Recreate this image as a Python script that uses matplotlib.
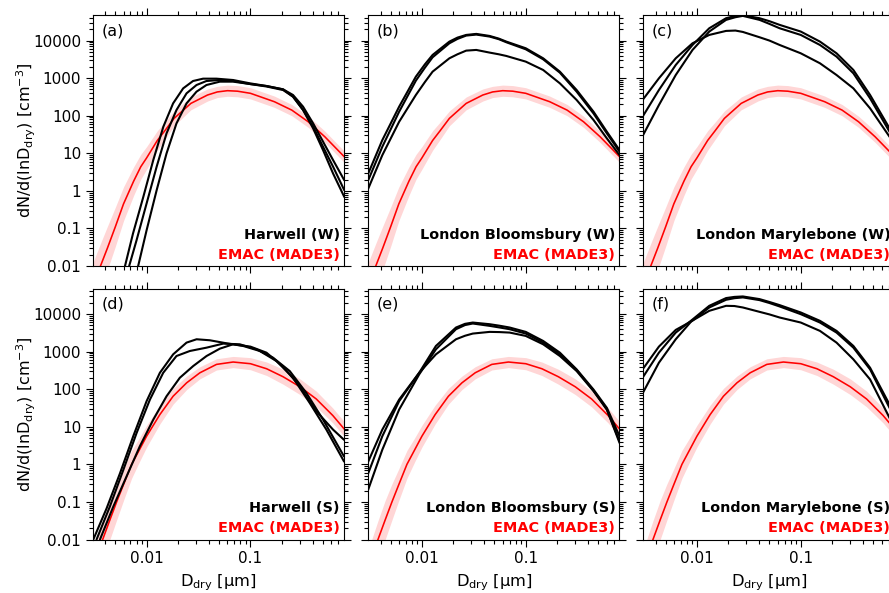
import numpy as np
import matplotlib
matplotlib.use("Agg")
import matplotlib.pyplot as plt
from matplotlib.ticker import LogLocator, FixedLocator, FixedFormatter, NullFormatter

plt.rcParams['font.family'] = ['DejaVu Sans']
plt.rcParams['mathtext.fontset'] = 'dejavusans'

# ---------------- data ----------------
# EMAC (MADE3) model, winter (W) and summer (S): median and shaded range
D_W = [0.003, 0.0036, 0.0042, 0.005, 0.006, 0.0075, 0.0088, 0.01, 0.0127, 0.015,
       0.0184, 0.0267, 0.0386, 0.048, 0.06, 0.075, 0.1, 0.17, 0.25, 0.36, 0.52, 0.8]
red_W = [0.0028, 0.01, 0.03, 0.11, 0.45, 1.8, 4.4, 7.5, 22, 40,
         85, 213, 356, 430, 464, 450, 395, 236, 141, 69, 27.5, 8.1]
red_W_hi = [0.0111, 0.0398, 0.114, 0.364, 1.27, 4.32, 9.4, 15, 40, 68,
            134, 315, 516, 606, 654, 635, 557, 333, 199, 97, 39, 11.4]
red_W_lo = [0.0007, 0.0025, 0.0079, 0.033, 0.16, 0.75, 2.06, 3.75, 12.1, 23.5,
            54, 144, 246, 305, 329, 319, 280, 167, 100, 49, 19.5, 5.7]

D_S = [0.0033, 0.00378, 0.00443, 0.00515, 0.006, 0.00718, 0.0085, 0.01, 0.0134, 0.018,
       0.0243, 0.0326, 0.0471, 0.0681, 0.1, 0.143, 0.206, 0.3, 0.43, 0.62, 0.8]
red_S = [0.0034, 0.01, 0.033, 0.1, 0.29, 1.0, 2.4, 5.6, 21, 65,
         148, 274, 458, 530, 478, 351, 215, 116, 55, 20, 8.7]
red_S_hi = [0.0103, 0.0316, 0.109, 0.302, 0.763, 2.34, 5.0, 10.9, 37.4, 105,
            224, 397, 646, 747, 693, 530, 340, 188, 89, 31.6, 13.7]
red_S_lo = [0.00113, 0.00316, 0.00997, 0.0331, 0.110, 0.427, 1.15, 2.87, 11.8, 40,
            98, 189, 325, 376, 330, 232, 136, 72, 34, 12.7, 5.5]

# (a) Harwell (W)
a1_D = [0.0057, 0.0062, 0.0074, 0.0093, 0.0116, 0.0145, 0.018, 0.0225, 0.028, 0.035, 0.047,
        0.068, 0.099, 0.143, 0.206, 0.257, 0.321, 0.401, 0.5, 0.624, 0.8]
a1_y = [0.005, 0.01, 0.073, 0.69, 6.6, 51, 213, 535, 840, 970, 970,
        893, 728, 618, 504, 321, 142, 51, 14.9, 4.4, 1.04]
a2_D = [0.0064, 0.0068, 0.008, 0.01, 0.0125, 0.01556, 0.0194, 0.02425, 0.03025, 0.0377, 0.0507,
        0.0681, 0.0986, 0.1426, 0.206, 0.257, 0.321, 0.401, 0.5, 0.624, 0.8]
a2_y = [0.004, 0.01, 0.048, 0.46, 4.4, 33.8, 142, 394, 657, 840, 893,
        840, 699, 618, 504, 356, 174, 62.5, 20.3, 6.6, 1.92]
a3_D = [0.0079, 0.0083, 0.01, 0.0125, 0.01556, 0.0194, 0.02425, 0.03025, 0.0377, 0.0507,
        0.0681, 0.0986, 0.1426, 0.206, 0.257, 0.321, 0.401, 0.5, 0.624, 0.8]
a3_y = [0.004, 0.01, 0.089, 1.04, 9.9, 62.5, 213, 437, 657, 807,
        807, 699, 600, 483, 321, 142, 46, 12.1, 2.9, 0.69]

# (b) London Bloomsbury (W)
b_D = [0.003, 0.00416, 0.00604, 0.00875, 0.0107, 0.01268, 0.0184, 0.022, 0.0267, 0.0334, 0.0449,
       0.055, 0.065, 0.1, 0.147, 0.213, 0.309, 0.449, 0.604, 0.8]
b1_y = [2.62, 22.4, 174, 1096, 2340, 4150, 9400, 12000, 14150, 15070, 13300,
        11300, 9400, 6250, 3380, 1489, 483, 128, 37.4, 12.1]
b2_y = [1.74, 14.9, 128, 857, 1905, 3593, 8485, 11070, 13600, 14450, 12790,
        10900, 9030, 5870, 3180, 1400, 437, 115, 33.8, 11]
b3_y = [1.04, 8.9, 69, 356, 790, 1489, 3380, 4320, 5410, 5640, 4790,
        4320, 3900, 2755, 1652, 728, 262, 77, 24.9, 8.9]

# (c) London Marylebone (W)
c_D = [0.003, 0.00431, 0.00626, 0.00908, 0.01316, 0.0191, 0.0235, 0.0277, 0.0401,
       0.05, 0.0626, 0.1, 0.153, 0.221, 0.321, 0.465, 0.716, 0.8]
c1_y = [94, 483, 2245, 7650, 21300, 39400, 45500, 47400, 39400,
        32800, 26200, 17400, 9400, 4590, 1652, 356, 46, 28]
c2_y = [28.7, 192, 1213, 5640, 17400, 35600, 41900, 45500, 35600,
        27800, 21300, 14150, 7650, 3743, 1346, 290, 37.4, 22]
c3_y = [262, 990, 3380, 8490, 14150, 18100, 18500, 17000, 12270,
        10000, 7650, 4590, 2490, 1213, 535, 157, 27.5, 19]

# (d) Harwell (S)
d1_D = [0.00307, 0.00412, 0.00555, 0.00744, 0.01, 0.01343, 0.01803, 0.02425, 0.0303,
        0.0406, 0.0587, 0.0849, 0.123, 0.178, 0.257, 0.372, 0.538, 0.796]
d1_y = [0.01, 0.067, 0.58, 5.6, 48, 274, 849, 1741, 2138,
        2010, 1671, 1419, 1042, 562, 202, 43, 8.4, 1.19]
d2_D = [0.0033, 0.00443, 0.00597, 0.00801, 0.01077, 0.01446, 0.0194, 0.0261, 0.0378,
        0.0546, 0.0789, 0.1142, 0.165, 0.239, 0.345, 0.5, 0.796]
d2_y = [0.01, 0.075, 0.71, 6.8, 53, 274, 766, 1042, 1279,
        1637, 1571, 1153, 692, 304, 80, 15.5, 1.62]
d3_D = [0.00356, 0.00478, 0.0064, 0.0086, 0.0116, 0.01556, 0.0209, 0.0281, 0.0378,
        0.0507, 0.0681, 0.1, 0.1426, 0.206, 0.298, 0.431, 0.624, 0.796]
d3_y = [0.01, 0.075, 0.47, 3.0, 15.5, 65, 202, 414, 766,
        1202, 1571, 1361, 940, 397, 121, 25.9, 8.4, 4.5]

# (e) London Bloomsbury (S)
e_D = [0.003, 0.00416, 0.00604, 0.00942, 0.01365, 0.0213, 0.026, 0.0309, 0.0449,
       0.056, 0.07, 0.1, 0.147, 0.213, 0.309, 0.449, 0.604, 0.8]
e1_y = [0.52, 5.6, 48, 274, 1419, 4390, 5500, 5960, 5380,
        4900, 4390, 3360, 1928, 940, 337, 98, 31.8, 5.6]
e2_y = [0.19, 2.45, 28.7, 248, 1153, 3960, 5100, 5610, 4860,
        4400, 3960, 3030, 1741, 849, 324, 92, 28.7, 3.7]
e3_y = [1.08, 8.4, 53, 274, 849, 2138, 2650, 3030, 3360,
        3320, 3220, 2624, 1571, 766, 304, 89, 28.7, 4.1]

# (f) London Marylebone (S)
f_D = [0.003, 0.00431, 0.00626, 0.00875, 0.01316, 0.0191, 0.023, 0.0277, 0.0401,
       0.05, 0.0626, 0.1, 0.153, 0.221, 0.321, 0.465, 0.716, 0.8]
f1_y = [202, 940, 3220, 6610, 16600, 26700, 28700, 29500, 25060,
        21000, 17330, 11040, 6610, 3570, 1419, 373, 39, 22.4]
f2_y = [77, 508, 2138, 6210, 15000, 24050, 26500, 27800, 23550,
        19700, 15960, 9950, 5960, 3220, 1279, 337, 31.8, 18.3]
f3_y = [337, 1361, 3795, 6340, 12220, 16600, 16400, 15000, 11480,
        9800, 8110, 5960, 3570, 1741, 624, 182, 17.2, 9.7]

panel_letters = ['(a)', '(b)', '(c)', '(d)', '(e)', '(f)']
site_names = ['Harwell (W)', 'London Bloomsbury (W)', 'London Marylebone (W)',
              'Harwell (S)', 'London Bloomsbury (S)', 'London Marylebone (S)']
model_name = 'EMAC (MADE3)'

obs = [
    [(a1_D, a1_y), (a2_D, a2_y), (a3_D, a3_y)],
    [(b_D, b1_y), (b_D, b2_y), (b_D, b3_y)],
    [(c_D, c1_y), (c_D, c2_y), (c_D, c3_y)],
    [(d1_D, d1_y), (d2_D, d2_y), (d3_D, d3_y)],
    [(e_D, e1_y), (e_D, e2_y), (e_D, e3_y)],
    [(f_D, f1_y), (f_D, f2_y), (f_D, f3_y)],
]
model = [(D_W, red_W, red_W_lo, red_W_hi)] * 3 + [(D_S, red_S, red_S_lo, red_S_hi)] * 3

ytick_vals = [0.01, 0.1, 1, 10, 100, 1000, 10000]
ytick_labels = ['0.01', '0.1', '1', '10', '100', '1000', '10000']
xtick_vals = [0.01, 0.1]
xtick_labels = ['0.01', '0.1']

# ---------------- figure ----------------
W, H = 889, 593
fig = plt.figure(figsize=(W / 100, H / 100), dpi=100)

lefts = [93, 368.3, 643.3]
tops = [15, 288.5]
aw, ah = 251, 251

for i in range(6):
    r, c = divmod(i, 3)
    ax = fig.add_axes([lefts[c] / W, (H - tops[r] - ah) / H, aw / W, ah / H])
    ax.set_xscale('log')
    ax.set_yscale('log')
    Dm, ym, lo, hi = model[i]
    ax.fill_between(Dm, lo, hi, color='#ffd6d6', lw=0, zorder=1)
    ax.plot(Dm, ym, color='#ff0000', lw=1.15, zorder=3)
    for Dx, yy in obs[i]:
        ax.plot(Dx, yy, color='black', lw=1.5, zorder=4,
                solid_capstyle='round', solid_joinstyle='round')
    ax.set_xlim(0.00305, 0.795)
    ax.set_ylim(0.01, 48000)

    ax.yaxis.set_major_locator(FixedLocator(ytick_vals))
    ax.yaxis.set_minor_locator(LogLocator(base=10, subs=np.arange(2, 10), numticks=20))
    ax.xaxis.set_major_locator(FixedLocator(xtick_vals))
    ax.xaxis.set_minor_locator(LogLocator(base=10, subs=np.arange(2, 10), numticks=20))
    ax.yaxis.set_minor_formatter(NullFormatter())
    ax.xaxis.set_minor_formatter(NullFormatter())
    if c == 0:
        ax.yaxis.set_major_formatter(FixedFormatter(ytick_labels))
    else:
        ax.yaxis.set_major_formatter(NullFormatter())
    if r == 1:
        ax.xaxis.set_major_formatter(FixedFormatter(xtick_labels))
    else:
        ax.xaxis.set_major_formatter(NullFormatter())

    ax.tick_params(which='both', direction='out', top=True, right=True,
                   width=0.8, labelsize=11, colors='black')
    ax.tick_params(which='major', length=5, pad=3.5)
    ax.tick_params(which='minor', length=2.6)
    for s in ax.spines.values():
        s.set_linewidth(0.8)

    ax.text(0.035, 0.937, panel_letters[i], transform=ax.transAxes,
            fontsize=11.5, ha='left', va='center')
    ax.text(0.984, 0.124, site_names[i], transform=ax.transAxes,
            fontsize=10.4, fontweight='bold', ha='right', va='center', color='black')
    ax.text(0.984, 0.044, model_name, transform=ax.transAxes,
            fontsize=10.4, fontweight='bold', ha='right', va='center', color='#ff0000')

    if c == 0:
        ax.set_ylabel(r'dN/d(lnD$_{\mathrm{dry}}$) [cm$^{\mathrm{-3}}$]', fontsize=11.5)
        ax.yaxis.set_label_coords(-0.219, 0.5)
    if r == 1:
        ax.set_xlabel(r'D$_{\mathrm{dry}}$ [μm]', fontsize=11.7)
        ax.xaxis.set_label_coords(0.5, -0.133)

fig.savefig('out.png', dpi=100)
